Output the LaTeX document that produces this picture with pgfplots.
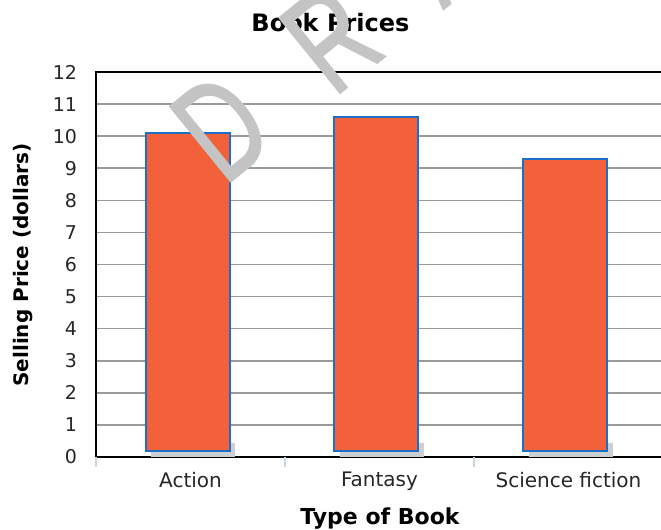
\documentclass[border=0pt]{standalone}
\usepackage{fontspec}
\setmainfont{DejaVu Sans}
\newfontfamily\wmfont[FakeBold=1.5]{Liberation Sans}
\usepackage{pgfplots}
\usepackage{pgfplotstable}
\pgfplotsset{compat=1.18}
\definecolor{barfill}{HTML}{F26139}
\definecolor{barline}{HTML}{1C6EC6}
\definecolor{shadowc}{HTML}{CDD0D2}
\definecolor{gridc}{HTML}{9A9A9A}
\definecolor{tickc}{HTML}{C8D4E0}
\definecolor{wmc}{HTML}{C4C4C4}
\pgfplotstableread{
x price
0 10.1
1 10.6
2 9.3
}\prices
\begin{document}
\begin{tikzpicture}
\begin{axis}[
  at={(48pt,36.5pt)}, anchor=south west,
  scale only axis, width=283.5pt, height=192.5pt,
  xmin=-0.5, xmax=2.5, ymin=0, ymax=12,
  ytick={0,1,...,12},
  xtick={0,1,2},
  xticklabels={Action, Fantasy, Science fiction},
  major tick length=0pt,
  xtick pos=left, ytick pos=left,
  ymajorgrids, grid style={gridc, line width=0.8pt},
  axis line style={black, line width=1.2pt},
  ticklabel style={font=\fontsize{9.5}{11}\selectfont, text=black!85},
  /pgf/number format/assume math mode=true,
  xticklabel style={yshift=-4pt, font=\fontsize{10}{12}\selectfont},
  yticklabel style={xshift=-6pt},
  extra x ticks={-0.5,0.5,1.5},
  extra x tick labels={},
  extra x tick style={major tick length=5pt, tick align=outside, tick style={tickc, line width=0.8pt}, grid=none},
]
\addplot[ybar, bar width=42pt, bar shift=1.2pt, fill=shadowc, draw=none] coordinates {(0,0.44) (1,0.44) (2,0.44)};
\end{axis}
\begin{axis}[
  at={(48pt,36.5pt)}, anchor=south west,
  scale only axis, width=283.5pt, height=192.5pt,
  xmin=-0.5, xmax=2.5, ymin=0, ymax=12,
  hide axis, ybar stacked, bar width=42pt, bar shift=-1.5pt,
]
\addplot[draw=none, fill=none] coordinates {(0,0.18) (1,0.18) (2,0.18)};
\addplot[fill=barfill, draw=barline, line width=1pt] table[x=x, y expr=\thisrow{price}-0.18] {\prices};
\end{axis}
\node[font=\bfseries\fontsize{12}{14}\selectfont] at (165.25pt,253.5pt) {Book Prices};
\node[font=\bfseries\fontsize{11}{13}\selectfont, anchor=base] at (190pt,2.5pt) {Type of Book};
\node[font=\bfseries\fontsize{10}{12}\selectfont, rotate=90] at (11.5pt,132.5pt) {Selling Price (dollars)};
\node[font=\wmfont\fontsize{70}{72}\selectfont, text=wmc, rotate=39, anchor=base west, inner sep=0pt] at (112pt,171.6pt) {\scalebox{0.7}[1]{D\hspace{50pt}R\hspace{50pt}A\hspace{50pt}F\hspace{50pt}T}};
\pgfresetboundingbox
\useasboundingbox (0pt,0pt) rectangle (330.5pt,265pt);
\end{tikzpicture}
\end{document}
